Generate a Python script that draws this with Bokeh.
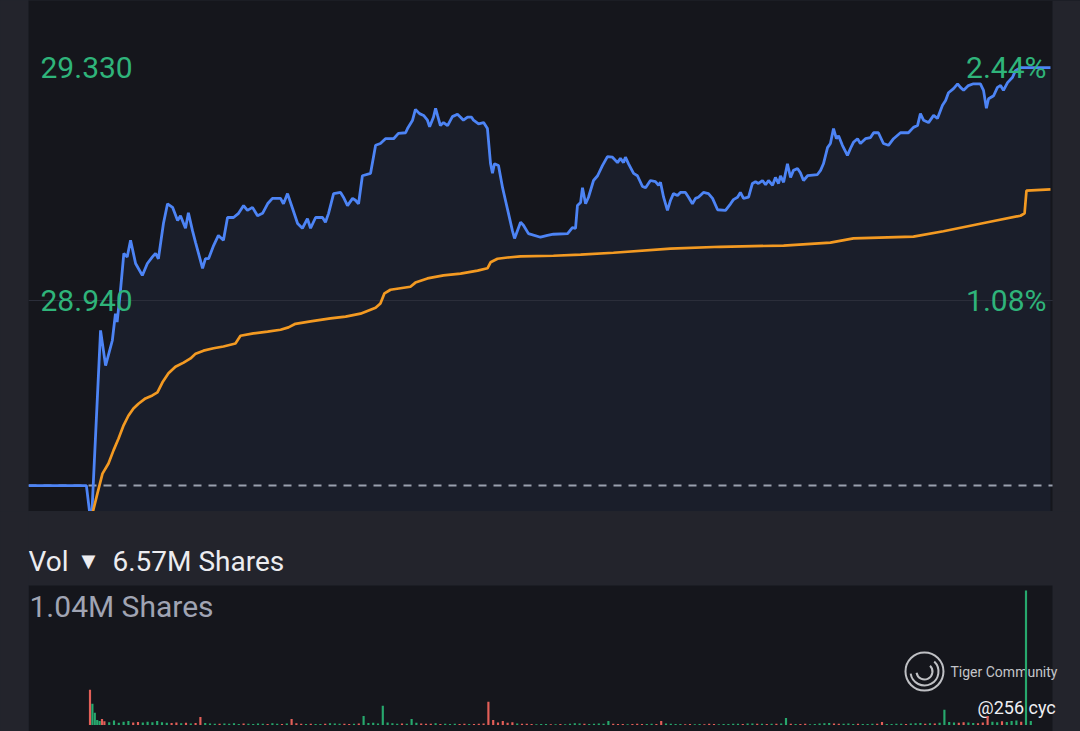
from bokeh.plotting import figure
from bokeh.models import Label, Span, BoxAnnotation, Range1d
from bokeh.layouts import column
from bokeh.embed import file_html
from bokeh.resources import INLINE

# ---------------- data ----------------
prev_close = 28.63
top_price, top_pct = 29.330, "2.44%"
mid_price, mid_pct = 28.940, "1.08%"
total_volume_text = "6.57M Shares"
max_volume_text = "1.04M Shares"

# pre-market (minutes relative to 09:30)
pre_min = [-25.6, -1.5]
pre_price = [28.63, 28.63]

# regular session price (minutes after 09:30)
sess_min = [0, 0.8, 4.4, 6.5, 9.3, 10.6, 11.3, 12.7, 14.1, 15.5,
            16.9, 19.0, 21.8, 23.9, 26.0, 27.3, 28.5, 30.6, 32.3, 34.4,
            36.5, 37.7, 39.8, 41.0, 42.7, 44.0, 46.9, 48.1, 49.4, 51.5,
            53.5, 55.6, 57.3, 59.8, 61.9, 64.0, 65.6, 67.7, 69.8, 71.9,
            74.0, 76.0, 79.4, 80.6, 82.3, 84.4, 86.5, 88.5, 90.6, 91.9,
            94.0, 96.9, 98.1, 99.4, 101.5, 104.4, 105.6, 107.3, 109.4, 110.6,
            111.9, 113.5, 116.9, 119.0, 121.0, 123.1, 126.5, 128.5, 131.5, 132.3,
            134.4, 135.6, 137.3, 139.0, 140.6, 141.5, 143.1, 144.0, 144.8, 146.0,
            147.3, 149.0, 151.0, 153.1, 154.4, 155.6, 157.3, 159.0, 159.8, 161.9,
            164.0, 165.6, 166.9, 167.7, 168.5, 170.2, 171.9, 173.1, 176.0, 176.9,
            179.4, 180.6, 182.7, 187.7, 190.6, 193.1, 199.0, 201.0, 202.3, 203.1,
            204.4, 205.2, 206.5, 207.7, 209.8, 211.5, 213.5, 215.6, 217.7, 219.8,
            221.0, 222.3, 223.1, 224.4, 226.5, 228.1, 230.2, 231.5, 233.5, 235.6,
            236.9, 237.7, 239.0, 240.6, 241.9, 243.1, 244.8, 246.0, 248.1, 249.4,
            251.0, 252.3, 253.5, 255.6, 257.7, 259.4, 261.5, 264.8, 266.9, 268.1,
            269.8, 271.0, 272.3, 274.4, 276.0, 277.3, 278.5, 280.2, 281.5, 282.7,
            284.4, 285.6, 286.9, 287.7, 289.0, 290.6, 291.9, 293.1, 294.8, 296.0,
            297.3, 299.0, 303.1, 304.4, 305.6, 307.3, 308.5, 309.8, 311.0, 311.9,
            313.5, 315.6, 316.9, 318.1, 319.8, 321.0, 323.1, 325.2, 326.5, 328.5,
            330.6, 332.7, 334.8, 337.7, 341.0, 343.1, 344.8, 346.0, 347.3, 349.4,
            351.5, 353.1, 355.2, 356.5, 357.7, 359.8, 361.5, 362.7, 364.0, 366.0,
            368.1, 371.0, 372.3, 373.5, 374.4, 376.5, 378.1, 379.4, 380.6, 382.3,
            384.4, 385.6, 387.7, 400.2]
sess_price = [28.58, 28.585, 28.890, 28.831, 28.873, 28.918, 28.904, 28.957, 29.019, 29.013,
              29.041, 29.002, 28.982, 29.002, 29.013, 29.019, 29.010, 29.069, 29.102, 29.096,
              29.074, 29.082, 29.061, 29.087, 29.057, 29.037, 28.994, 29.010, 29.010, 29.032,
              29.049, 29.041, 29.079, 29.079, 29.086, 29.099, 29.091, 29.096, 29.082, 29.086,
              29.102, 29.111, 29.111, 29.102, 29.119, 29.094, 29.069, 29.061, 29.077, 29.061,
              29.079, 29.079, 29.071, 29.086, 29.119, 29.121, 29.113, 29.099, 29.111, 29.108,
              29.102, 29.149, 29.153, 29.200, 29.203, 29.211, 29.211, 29.220, 29.221, 29.228,
              29.242, 29.260, 29.253, 29.250, 29.242, 29.231, 29.247, 29.262, 29.250, 29.233,
              29.238, 29.233, 29.248, 29.252, 29.247, 29.242, 29.247, 29.247, 29.242, 29.236,
              29.238, 29.228, 29.169, 29.153, 29.169, 29.166, 29.129, 29.108, 29.057, 29.044,
              29.071, 29.066, 29.052, 29.046, 29.049, 29.051, 29.052, 29.062, 29.061, 29.099,
              29.104, 29.129, 29.102, 29.113, 29.141, 29.149, 29.166, 29.181, 29.180, 29.171,
              29.178, 29.171, 29.180, 29.169, 29.153, 29.149, 29.131, 29.129, 29.141, 29.139,
              29.133, 29.138, 29.113, 29.091, 29.108, 29.119, 29.116, 29.121, 29.121, 29.113,
              29.102, 29.111, 29.113, 29.121, 29.119, 29.111, 29.092, 29.091, 29.102, 29.109,
              29.113, 29.121, 29.111, 29.113, 29.136, 29.139, 29.136, 29.141, 29.134, 29.141,
              29.133, 29.146, 29.136, 29.149, 29.138, 29.169, 29.146, 29.158, 29.161, 29.154,
              29.141, 29.149, 29.151, 29.158, 29.169, 29.196, 29.203, 29.228, 29.211, 29.216,
              29.200, 29.183, 29.195, 29.205, 29.211, 29.203, 29.211, 29.213, 29.221, 29.221,
              29.203, 29.200, 29.211, 29.221, 29.221, 29.230, 29.233, 29.253, 29.242, 29.238,
              29.250, 29.245, 29.267, 29.275, 29.288, 29.295, 29.303, 29.297, 29.292, 29.300,
              29.303, 29.303, 29.292, 29.262, 29.278, 29.283, 29.297, 29.300, 29.292, 29.305,
              29.314, 29.325, 29.330, 29.330]

# VWAP
vwap_min = [1.0, 3.1, 5.2, 7.7, 9.8, 11.9, 14.0, 16.0, 18.1, 20.2,
            23.1, 26.0, 28.1, 30.2, 32.7, 35.6, 39.0, 41.9, 44.0, 47.3,
            51.5, 55.6, 60.6, 62.7, 68.1, 74.0, 79.4, 82.7, 85.6, 91.9,
            100.2, 106.5, 112.7, 119.0, 121.0, 122.7, 125.2, 133.5, 135.6, 140.6,
            147.3, 154.4, 161.5, 165.6, 166.9, 169.8, 174.0, 179.4, 193.1, 204.4,
            218.1, 241.9, 262.7, 289.0, 308.5, 318.1, 343.1, 355.6, 374.0, 387.7,
            389.4, 390.2, 400.2]
vwap = [28.583, 28.617, 28.650, 28.667, 28.689, 28.709, 28.731, 28.747, 28.759, 28.767,
        28.776, 28.781, 28.786, 28.803, 28.818, 28.829, 28.836, 28.843, 28.851, 28.856,
        28.860, 28.863, 28.868, 28.881, 28.885, 28.888, 28.891, 28.895, 28.901, 28.905,
        28.910, 28.913, 28.918, 28.928, 28.935, 28.952, 28.958, 28.963, 28.970, 28.977,
        28.982, 28.985, 28.990, 28.994, 29.004, 29.010, 29.012, 29.014, 29.015, 29.017,
        29.020, 29.027, 29.030, 29.032, 29.037, 29.044, 29.047, 29.056, 29.071, 29.082,
        29.086, 29.124, 29.126]

# volume (thousands of shares)
open_vol_min = [0, 1, 2, 3, 4, 5]
open_vol = [273, 164, 94, 38, 30, 47]
open_dir = "rggggr"

grid_vol = [28, 22, 35, 18, 25, 30, 20, 24, 19, 26, 22, 31,
            22, 18, 15, 20, 14, 17, 12, 16, 62, 15, 12, 10,
            10, 12, 9, 14, 8, 11, 10, 7, 12, 9, 8, 13,
            9, 7, 11, 47, 14, 9, 8, 10, 7, 8, 10, 14,
            12, 9, 10, 8, 9, 11, 70, 15, 18, 12, 148, 20,
            14, 10, 12, 9, 47, 18, 11, 9, 10, 13, 8, 9,
            8, 10, 7, 9, 8, 7, 9, 11, 180, 39, 20, 31,
            18, 22, 12, 10, 9, 7, 6, 8, 7, 6, 5, 7,
            6, 9, 14, 12, 10, 8, 9, 11, 10, 31, 9, 8,
            7, 6, 8, 9, 7, 8, 10, 8, 31, 12, 9, 8,
            7, 6, 8, 5, 7, 6, 9, 8, 6, 7, 8, 10,
            9, 8, 11, 12, 10, 9, 8, 10, 9, 11, 55, 10,
            8, 7, 9, 6, 8, 12, 14, 16, 11, 9, 10, 12,
            8, 9, 7, 8, 10, 9, 23, 8, 7, 9, 10, 8,
            12, 14, 16, 10, 13, 11, 18, 117, 24, 20, 18, 22,
            19, 16, 14, 20, 70, 26, 22, 28, 24, 30, 35, 26]
grid_dir = ("rgggggrrgggg" "ggrrgrgrrggg" "rggggrggggrg" "grgrrrgrggrg"
            "ggrrgrgggggg" "ggrgggrrrgrg" "ggrrgrrrrrrr" "rrgrrrgggrgr"
            "ggggrgggggrr" "rgrrrggrrggg" "grrggrrrgggg" "grggrgrgrggr"
            "grrgggggrrgg" "grgggrrggggr" "gggrgrggggrr" "ggrrrggrgggr")
grid_first, grid_step = 6, 2

close_vol_min = [390, 392]
close_vol = [1040, 31]
close_dir = "gg"

# ---------------- styling ----------------
PAGE_BG = "#23242c"
PLOT_BG = "#15161c"
AREA_BG = "#1a1e2a"
BLUE = "#4d84f5"
ORANGE = "#f39a22"
GREEN_TXT = "#2fb47a"
UP = "#27a86d"
DOWN = "#e35f58"
FONT = "Roboto"

PX_PER_MIN = 2.4
X0 = -25.625                      # left edge of the chart area
X1 = X0 + 1024 / PX_PER_MIN       # right edge of the dark chart area
X1_WIDE = X0 + 1052 / PX_PER_MIN  # frames reach the page edge (strip is masked)
P0, P1 = 28.5866, 29.4425
V0, V1 = -50.3, 1651
VOL_PANEL_TOP = 1078.8


def base_figure(height, y0, y1):
    f = figure(width=1080, height=height, x_range=Range1d(X0, X1_WIDE),
               y_range=Range1d(y0, y1), output_backend="svg", toolbar_location=None,
               title=None, x_axis_location=None, y_axis_location=None,
               min_border_left=28, min_border_right=0, min_border_top=0,
               min_border_bottom=0)
    f.grid.visible = False
    f.outline_line_color = None
    f.border_fill_color = PAGE_BG
    return f


# ---------------- price panel ----------------
p = base_figure(511, P0, P1)
p.background_fill_color = PLOT_BG

n = min(len(sess_min), len(sess_price))
sx, sy = sess_min[:n], sess_price[:n]
p.varea(x=sx, y1=P0 - 1, y2=sy, fill_color=AREA_BG, fill_alpha=1.0, level="underlay")

p.add_layout(Span(location=mid_price, dimension="width", line_color="#2b2e3a",
                  line_width=1, level="underlay"))
p.add_layout(Span(location=prev_close, dimension="width", line_color="#9aa0ae",
                  line_width=2, line_dash="8 7", level="underlay"))

p.line(pre_min + sx, pre_price + sy, line_color=BLUE, line_width=2.8)
m = min(len(vwap_min), len(vwap))
p.line(vwap_min[:m], vwap[:m], line_color=ORANGE, line_width=2.7)

# right page strip
p.add_layout(BoxAnnotation(left=X1, fill_color=PAGE_BG, fill_alpha=1.0, line_alpha=0,
                           level="overlay"))

for txt, yv, xs, align in [(f"{top_price:.3f}", top_price, 12, "left"),
                           (top_pct, top_price, 1018, "right"),
                           (f"{mid_price:.3f}", mid_price, 12, "left"),
                           (mid_pct, mid_price, 1018, "right")]:
    p.add_layout(Label(x=xs, x_units="screen", y=yv, y_units="data", text=txt,
                       text_font=FONT, text_font_size="30px", text_color=GREEN_TXT,
                       text_align=align, text_baseline="middle"))

# ---------------- volume panel ----------------
v = base_figure(220, V0, V1)
v.background_fill_color = PAGE_BG
v.add_layout(BoxAnnotation(top=VOL_PANEL_TOP, right=X1, fill_color=PLOT_BG, fill_alpha=1.0,
                           line_alpha=0, level="image"))

g = min(len(grid_vol), len(grid_dir))
grid_min = [grid_first + grid_step * i for i in range(g)]
vol_min = open_vol_min + grid_min + close_vol_min
vol_k = open_vol + grid_vol[:g] + close_vol
vol_dir = open_dir + grid_dir[:g] + close_dir
vol_col = [UP if d == "g" else DOWN for d in vol_dir]

# watermark (under the bars)
LOGO_X, LOGO_Y = 347.7, 413.7
v.scatter(x=[LOGO_X], y=[LOGO_Y], marker="circle", size=38, fill_alpha=0,
          line_color="#bfc0c4", line_width=2, level="underlay")
v.arc(x=[LOGO_X], y=[LOGO_Y], radius=14, radius_units="screen", start_angle=3.3,
      end_angle=0.8, direction="anticlock", line_color="#bfc0c4", line_width=2,
      level="underlay")
v.arc(x=[LOGO_X], y=[LOGO_Y], radius=8, radius_units="screen", start_angle=3.3,
      end_angle=0.8, direction="anticlock", line_color="#bfc0c4", line_width=2,
      level="underlay")
v.add_layout(Label(x=922, y=60, x_units="screen", y_units="screen", text="Tiger Community",
                   text_font=FONT, text_font_size="14px", text_color="#c4c5c9",
                   text_baseline="middle", level="underlay"))
v.add_layout(Label(x=949, y=24, x_units="screen", y_units="screen", text="@256 cyc",
                   text_font=FONT, text_font_size="18px", text_color="#eeeef2",
                   text_baseline="middle", level="underlay"))

v.vbar(x=vol_min, top=vol_k, width=0.9, fill_color=vol_col, line_color=None)

v.add_layout(Label(x=0, y=170, x_units="screen", y_units="screen", text="Vol",
                   text_font=FONT, text_font_size="28px", text_color="#ececf0",
                   text_baseline="middle"))
v.add_layout(Label(x=60, y=171, x_units="screen", y_units="screen", text="▼",
                   text_font="DejaVu Sans", text_font_size="18px", text_color="#ececf0",
                   text_baseline="middle", text_align="center"))
v.add_layout(Label(x=84, y=170, x_units="screen", y_units="screen", text=total_volume_text,
                   text_font=FONT, text_font_size="28px", text_color="#ececf0",
                   text_baseline="middle"))
v.add_layout(Label(x=1, y=125, x_units="screen", y_units="screen", text=max_volume_text,
                   text_font=FONT, text_font_size="30px", text_color="#a0a4b3",
                   text_baseline="middle"))

layout = column(p, v)
html = file_html(layout, INLINE, title="Intraday")
html = html.replace("</head>", "<style>html, body { background-color: #23242c; }</style></head>", 1)
open("out.html", "w").write(html)
